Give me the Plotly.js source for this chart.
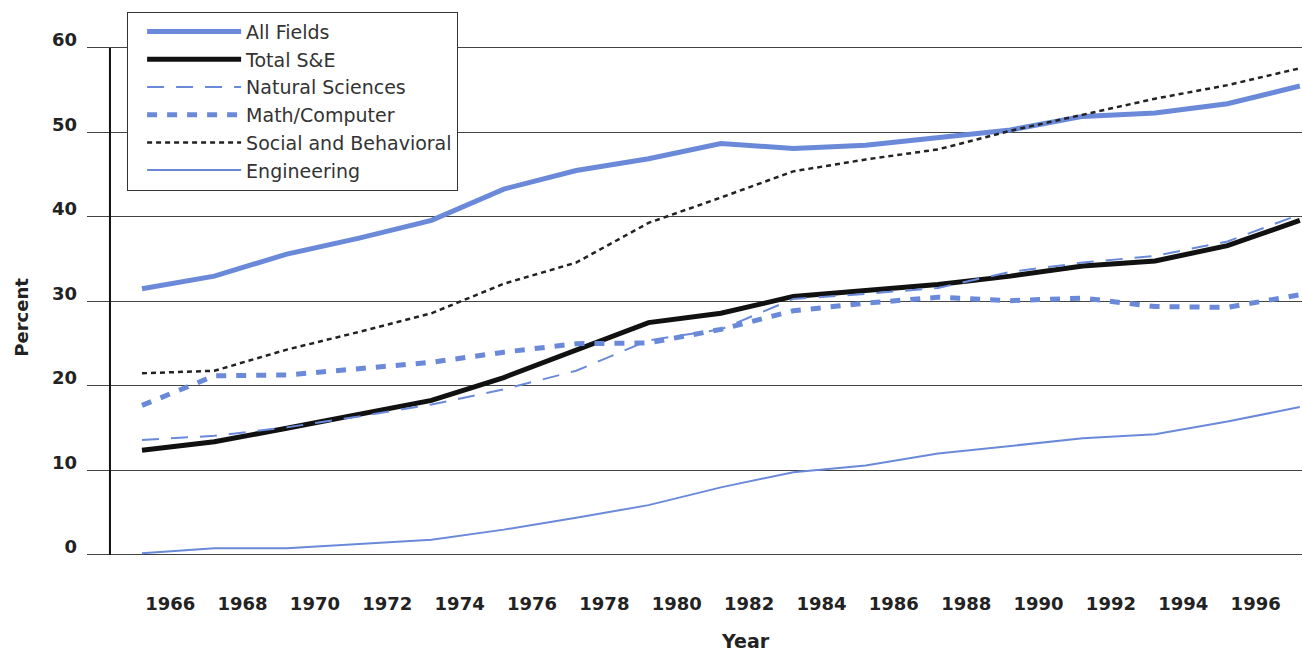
<!DOCTYPE html>
<html>
<head>
<meta charset="utf-8">
<script src="https://cdn.plot.ly/plotly-3.0.1.min.js"></script>
<style>
  html, body { margin: 0; padding: 0; background: #fff; }
  #chart { width: 1302px; height: 651px; }
</style>
</head>
<body>
<div id="chart"></div>
<script>
// data, every second year
var years = [1965, 1967, 1969, 1971, 1973, 1975, 1977, 1979, 1981, 1983, 1985, 1987, 1989, 1991, 1993, 1995, 1997];
var allFields   = [31.5, 33.0, 35.6, 37.5, 39.6, 43.3, 45.5, 46.9, 48.7, 48.1, 48.5, 49.4, 50.3, 51.9, 52.3, 53.4, 55.5];
var totalSE     = [12.4, 13.4, 15.0, 16.6, 18.3, 21.0, 24.2, 27.5, 28.6, 30.6, 31.3, 32.0, 33.0, 34.2, 34.8, 36.6, 39.6];
var naturalSci  = [13.6, 14.1, 15.1, 16.4, 17.8, 19.6, 21.8, 25.4, 26.7, 30.3, 30.9, 31.6, 33.5, 34.6, 35.4, 37.1, 40.3];
var mathComp    = [17.7, 21.2, 21.3, 22.1, 22.8, 24.0, 25.0, 25.1, 26.7, 28.9, 29.8, 30.5, 30.1, 30.4, 29.4, 29.3, 30.8];
var socialBeh   = [21.5, 21.8, 24.3, 26.4, 28.6, 32.1, 34.6, 39.3, 42.3, 45.4, 46.8, 48.0, 50.2, 52.1, 54.0, 55.6, 57.6];
var engineering = [0.2, 0.8, 0.8, 1.3, 1.8, 3.0, 4.4, 5.9, 8.0, 9.8, 10.6, 12.0, 12.9, 13.8, 14.3, 15.8, 17.5];

var xTicks = [1966, 1968, 1970, 1972, 1974, 1976, 1978, 1980, 1982, 1984, 1986, 1988, 1990, 1992, 1994, 1996];
var yTicks = [0, 10, 20, 30, 40, 50, 60];

const BLUE = '#6a8ad9';
const FONT = 'DejaVu Sans, sans-serif';

var traces = [
    {name: 'All Fields', y: allFields, line: {color: BLUE, width: 5}},
    {name: 'Total S&E', y: totalSE, line: {color: '#111', width: 5}},
    {name: 'Natural Sciences', y: naturalSci, line: {color: BLUE, width: 2, dash: '17px,12px'}},
    {name: 'Math/Computer', y: mathComp, line: {color: BLUE, width: 5, dash: '10px,10px'}},
    {name: 'Social and Behavioral', y: socialBeh, line: {color: '#222', width: 2.5, dash: '5px,4px'}},
    {name: 'Engineering', y: engineering, line: {color: BLUE, width: 2}}
].map(function(t) {
    t.x = years;
    t.type = 'scatter';
    t.mode = 'lines';
    return t;
});

var layout = {
    width: 1302, height: 651,
    margin: {l: 87, r: 0, t: 14, b: 76},
    paper_bgcolor: '#fff', plot_bgcolor: '#fff',
    font: {family: FONT, color: '#222'},
    showlegend: true,
    legend: {
        x: 0.033, y: 1.004, xanchor: 'left', yanchor: 'top',
        bgcolor: '#fff', bordercolor: '#333', borderwidth: 1,
        font: {family: FONT, size: 19, color: '#333'},
        itemwidth: 94, indentation: 14,
        traceorder: 'normal'
    },
    xaxis: {
        range: [1963.48, 1997.06],
        tickvals: xTicks,
        showgrid: false, zeroline: false, showline: false,
        ticks: '', ticklabelshift: -8, ticklabelstandoff: 16,
        tickfont: {family: FONT, size: 18, weight: 'bold', color: '#222'}
    },
    yaxis: {
        range: [-2.37, 64.02],
        tickvals: yTicks,
        showgrid: true, gridcolor: '#444', gridwidth: 1,
        zeroline: false, showline: false,
        ticks: '', ticklabelshift: -8, ticklabelstandoff: 9,
        tickfont: {family: FONT, size: 18, weight: 'bold', color: '#222'}
    },
    shapes: [{
        type: 'line', xref: 'paper', yref: 'y',
        x0: 0.0189, x1: 0.0189, y0: 0, y1: 60,
        line: {color: '#111', width: 2}
    }],
    annotations: [
        {text: 'Year', xref: 'paper', yref: 'paper', x: 0.542, y: -0.14,
         showarrow: false, font: {family: FONT, size: 19, weight: 'bold', color: '#222'}},
        {text: 'Percent', xref: 'paper', yref: 'paper', x: -0.064, y: 0.46, textangle: -90,
         showarrow: false, font: {family: FONT, size: 18, weight: 'bold', color: '#222'}}
    ]
};

Plotly.newPlot('chart', traces, layout, {displayModeBar: false, staticPlot: true});
</script>
</body>
</html>
